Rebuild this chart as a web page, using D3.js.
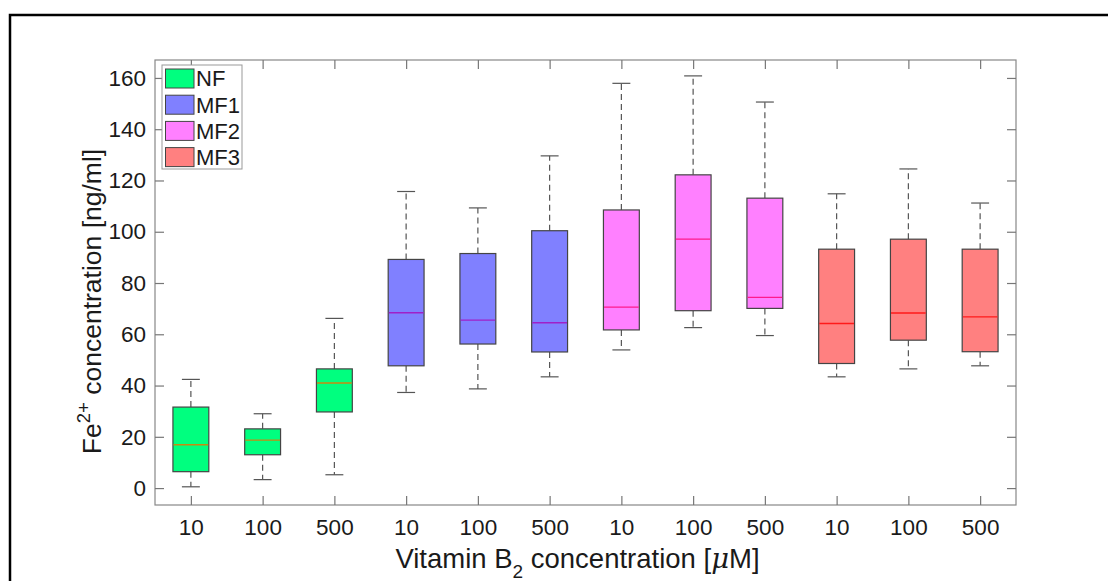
<!DOCTYPE html>
<html><head><meta charset="utf-8">
<script src="https://cdn.jsdelivr.net/npm/d3@7"></script>
<style>
html,body{margin:0;padding:0;background:#fff;}
svg{display:block;font-family:"Liberation Sans",Arial,sans-serif;}
</style></head>
<body><svg id="c" width="1108" height="581"></svg>
<script>
const categories = ["10","100","500","10","100","500","10","100","500","10","100","500"];
const groups = ["NF","NF","NF","MF1","MF1","MF1","MF2","MF2","MF2","MF3","MF3","MF3"];
const whiskerLow  = [0.5, 3.3, 5.2, 37.3, 38.7, 43.4, 53.9, 62.6, 59.5, 43.4, 46.5, 47.7];
const q1          = [6.4, 13.0, 29.7, 47.7, 56.2, 53.1, 61.7, 69.2, 70.1, 48.6, 57.7, 53.2];
const medians     = [16.9, 18.7, 41.0, 68.4, 65.5, 64.5, 70.6, 97.1, 74.4, 64.2, 68.3, 66.8];
const q3          = [31.6, 23.1, 46.5, 89.2, 91.5, 100.4, 108.5, 122.2, 113.1, 93.2, 97.1, 93.2];
const whiskerHigh = [42.4, 29.0, 66.2, 115.7, 109.3, 129.6, 157.9, 160.8, 150.6, 114.8, 124.5, 111.2];
const legendNames = ["NF","MF1","MF2","MF3"];
const yTicks = [0,20,40,60,80,100,120,140,160];

const fillColor = {NF:"#00ff7f", MF1:"#8080ff", MF2:"#ff80ff", MF3:"#ff8080"};
const medColor = {NF:"#c88a10", MF1:"#a020c8", MF2:"#ff1a8c", MF3:"#ff1a1a"};

const svg = d3.select("#c");
const L = 155, R = 1016, T = 60, B = 505;
const x = d3.scaleLinear().domain([0.5, 12.5]).range([L, R]);
const y = d3.scaleLinear().domain([-6.6, 167]).range([B, T]);
const idx = d3.range(categories.length);
const boxW = (x(1) - x(0.5)); // half spacing => width 0.5
const capW = boxW / 2;

// outer frame
svg.append("rect").attr("x",10).attr("y",15).attr("width",1200).attr("height",700)
  .attr("fill","none").attr("stroke","#000").attr("stroke-width",2.5);

const g = svg.append("g");

// whiskers
idx.forEach(i => {
  const cx = x(i+1), col = "#555";
  g.append("line").attr("x1",cx).attr("x2",cx).attr("y1",y(q3[i])).attr("y2",y(whiskerHigh[i]))
    .attr("stroke",col).attr("stroke-width",1.2).attr("stroke-dasharray","6,4");
  g.append("line").attr("x1",cx).attr("x2",cx).attr("y1",y(q1[i])).attr("y2",y(whiskerLow[i]))
    .attr("stroke",col).attr("stroke-width",1.2).attr("stroke-dasharray","6,4");
  g.append("line").attr("x1",cx-capW/2).attr("x2",cx+capW/2).attr("y1",y(whiskerHigh[i])).attr("y2",y(whiskerHigh[i]))
    .attr("stroke",col).attr("stroke-width",1.2);
  g.append("line").attr("x1",cx-capW/2).attr("x2",cx+capW/2).attr("y1",y(whiskerLow[i])).attr("y2",y(whiskerLow[i]))
    .attr("stroke",col).attr("stroke-width",1.2);
});

// boxes
g.selectAll("rect.box").data(idx).join("rect").attr("class","box")
  .attr("x", i => x(i+1) - boxW/2).attr("width", boxW)
  .attr("y", i => y(q3[i])).attr("height", i => y(q1[i]) - y(q3[i]))
  .attr("fill", i => fillColor[groups[i]]).attr("stroke","#444").attr("stroke-width",1.2);

// medians
g.selectAll("line.med").data(idx).join("line").attr("class","med")
  .attr("x1", i => x(i+1) - boxW/2 + 0.6).attr("x2", i => x(i+1) + boxW/2 - 0.6)
  .attr("y1", i => y(medians[i])).attr("y2", i => y(medians[i]))
  .attr("stroke", i => medColor[groups[i]]).attr("stroke-width",1.3);

// axes box
svg.append("rect").attr("x",L).attr("y",T).attr("width",R-L).attr("height",B-T)
  .attr("fill","none").attr("stroke","#888").attr("stroke-width",1.2);

const tickVals = idx.map(i => i+1);
const axB = svg.append("g").attr("transform",`translate(0,${B})`)
  .call(d3.axisBottom(x).tickValues(tickVals).tickFormat(d => categories[d-1]).tickSize(-9).tickSizeOuter(0).tickPadding(14));
const axT = svg.append("g").attr("transform",`translate(0,${T})`)
  .call(d3.axisTop(x).tickValues(tickVals).tickFormat("").tickSize(-9).tickSizeOuter(0));
const axL = svg.append("g").attr("transform",`translate(${L},0)`)
  .call(d3.axisLeft(y).tickValues(yTicks).tickFormat(d3.format("d")).tickSize(-9).tickSizeOuter(0).tickPadding(9));
const axR = svg.append("g").attr("transform",`translate(${R},0)`)
  .call(d3.axisRight(y).tickValues(yTicks).tickFormat("").tickSize(-9).tickSizeOuter(0));
[axB,axT,axL,axR].forEach(a => {
  a.select(".domain").remove();
  a.selectAll(".tick line").attr("stroke","#777").attr("stroke-width",1.2);
  a.selectAll(".tick text").attr("fill","#1a1a1a").style("font-size","22.5px")
    .style("font-family","'Liberation Sans',Arial,sans-serif");
});
axB.selectAll(".tick text").attr("dy","0.71em");

// axis titles
const xt = svg.append("text").attr("x", (L+R)/2 - 8).attr("y", 568).attr("text-anchor","middle")
  .style("font-size","27.5px").attr("fill","#1a1a1a");
xt.append("tspan").text("Vitamin B");
xt.append("tspan").text("2").attr("dy", 10).style("font-size","19px");
xt.append("tspan").text(" concentration [").attr("dy", -10);
xt.append("tspan").text("\u03bc").style("font-family","'DejaVu Serif',serif").style("font-style","italic");
xt.append("tspan").text("M]");

const yt = svg.append("text").attr("transform",`translate(101,${(T+B)/2 + 19}) rotate(-90)`)
  .attr("text-anchor","middle").style("font-size","26.5px").attr("fill","#1a1a1a");
yt.append("tspan").text("Fe");
yt.append("tspan").text("2+").attr("dy", -11).style("font-size","18.5px");
yt.append("tspan").text(" concentration [ng/ml]").attr("dy", 11);

// legend
const lg = svg.append("g");
lg.append("rect").attr("x",162).attr("y",65).attr("width",80).attr("height",104)
  .attr("fill","#fff").attr("stroke","#999").attr("stroke-width",1);
legendNames.forEach((n,k) => {
  const yy = 69 + k*26.2;
  lg.append("rect").attr("x",165.5).attr("y",yy).attr("width",28.5).attr("height",19)
    .attr("fill",fillColor[n]).attr("stroke","#444").attr("stroke-width",1);
  lg.append("text").attr("x",196).attr("y",yy+9.5).attr("dy","0.36em")
    .style("font-size","22px").attr("fill","#1a1a1a").text(n);
});
</script></body></html>
